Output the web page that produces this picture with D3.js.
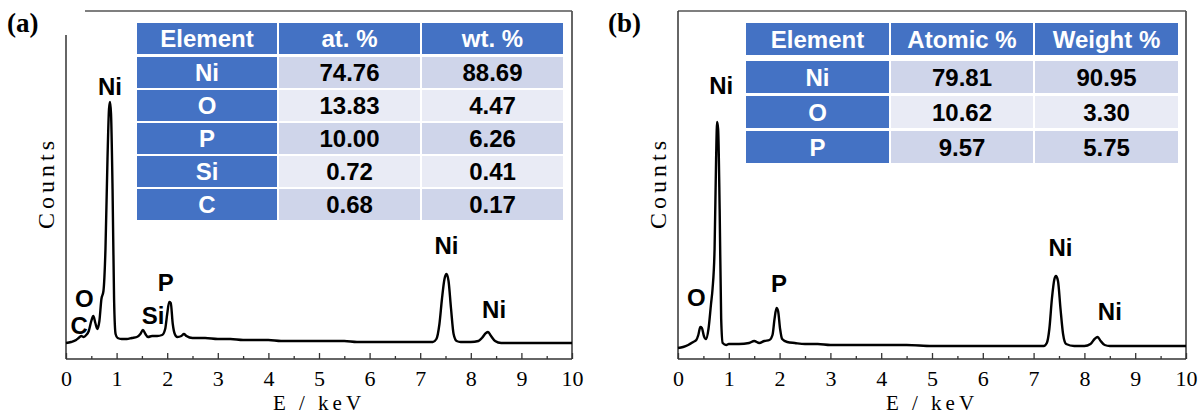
<!DOCTYPE html>
<html>
<head>
<meta charset="utf-8">
<script src="https://cdn.jsdelivr.net/npm/d3@7"></script>
<style>
  html, body { margin: 0; padding: 0; background: #fff; }
  svg { display: block; }
</style>
</head>
<body>
<svg id="chart" width="1198" height="415"></svg>
<script>
// ---------------- DATA ----------------
const panelLabels = ["(a)", "(b)"];
const majorTicks = [0, 1, 2, 3, 4, 5, 6, 7, 8, 9, 10];
const minorTicks = [0.5, 1.5, 2.5, 3.5, 4.5, 5.5, 6.5, 7.5, 8.5, 9.5];
const xTitle = "E / keV";
const yTitle = "Counts";

// Spectrum (a): energy (keV) and counts (arb.)
const energyA = [0.00,0.10,0.20,0.25,0.30,0.35,0.40,0.45,0.50,0.54,0.58,0.62,0.66,0.70,0.74,0.78,0.82,0.85,0.87,0.89,0.92,0.95,0.98,1.02,1.10,1.20,1.30,1.40,1.47,1.52,1.57,1.62,1.70,1.80,1.90,1.96,2.00,2.04,2.07,2.11,2.15,2.20,2.28,2.33,2.38,2.50,2.75,3.00,3.25,3.50,3.75,4.00,4.25,4.50,4.75,5.00,5.25,5.50,5.75,6.00,6.25,6.50,6.75,7.00,7.25,7.32,7.38,7.43,7.48,7.52,7.56,7.61,7.66,7.72,7.80,8.00,8.15,8.22,8.30,8.34,8.40,8.48,8.60,8.80,9.00,9.25,9.50,9.75,10.00];
const countsA = [16,17,19,21,23,22,24,28,38,43,36,30,38,60,68,110,200,250,257,245,170,60,25,21,20,20,21,22,25,29,25,22,23,23,24,30,45,57,56,35,25,22,23,25,23,21,21,20,20,19,19,19,18,18,18,18,18,18,17,17,17,17,17,17,17,20,35,60,80,85,78,50,25,18,17,17,18,21,26,27,23,18,16,16,16,16,16,16,16];

// Spectrum (b)
const energyB = [0.00,0.10,0.20,0.30,0.36,0.40,0.44,0.47,0.51,0.55,0.60,0.65,0.68,0.72,0.75,0.77,0.79,0.82,0.85,0.88,0.95,1.00,1.20,1.40,1.50,1.60,1.70,1.80,1.86,1.90,1.94,1.97,2.01,2.05,2.15,2.30,2.50,2.75,3.00,3.50,4.00,4.50,5.00,5.50,6.00,6.50,7.00,7.20,7.26,7.31,7.36,7.41,7.44,7.48,7.53,7.58,7.64,7.80,8.00,8.12,8.20,8.26,8.32,8.40,8.50,9.00,9.50,10.00];
const countsB = [11,12,14,17,19,24,32,31,23,20,30,55,70,110,200,237,230,150,40,16,14,15,15,16,18,16,18,19,24,40,51,48,30,20,17,16,15,15,14,14,14,14,13,13,13,13,13,13,16,30,60,80,83,78,50,25,15,13,13,15,20,22,18,14,13,13,13,13];

// Peak labels (element, energy keV, counts level of label centre)
const peaksA = [
  {t:"Ni", e:0.87, c:273},
  {t:"O",  e:0.36, c:61},
  {t:"C",  e:0.26, c:34},
  {t:"Si", e:1.72, c:44},
  {t:"P",  e:1.97, c:77},
  {t:"Ni", e:7.52, c:114},
  {t:"Ni", e:8.46, c:50}
];
const peaksB = [
  {t:"Ni", e:0.85, c:274},
  {t:"O",  e:0.36, c:62},
  {t:"P",  e:1.99, c:76},
  {t:"Ni", e:7.53, c:112},
  {t:"Ni", e:8.50, c:48}
];

// Tables
const headerA = ["Element", "at. %", "wt. %"];
const elementsA = ["Ni", "O", "P", "Si", "C"];
const atA = ["74.76", "13.83", "10.00", "0.72", "0.68"];
const wtA = ["88.69", "4.47", "6.26", "0.41", "0.17"];

const headerB = ["Element", "Atomic %", "Weight %"];
const elementsB = ["Ni", "O", "P"];
const atB = ["79.81", "10.62", "9.57"];
const wtB = ["90.95", "3.30", "5.75"];

// ---------------- DRAW ----------------
const svg = d3.select("#chart");
const BLUE = "#4472C4", DARK = "#CFD5EA", LIGHT = "#E9EBF5";

function drawPanel(p) {
  const g = svg.append("g");
  const x = d3.scaleLinear().domain([0, 10]).range([p.x0, p.x1]);
  const y = d3.scaleLinear().domain([0, 350]).range([p.yb, p.yb - 350]);

  // frame
  const fr = g.append("g").attr("stroke", "#333").attr("stroke-width", 1.5).attr("fill", "none");
  fr.append("line").attr("x1", p.x0).attr("x2", p.x1).attr("y1", p.yb).attr("y2", p.yb);
  fr.append("line").attr("x1", p.x1).attr("x2", p.x1).attr("y1", p.yt).attr("y2", p.yb);
  fr.append("line").attr("x1", p.topStart).attr("x2", p.x1).attr("y1", p.yt).attr("y2", p.yt).attr("stroke", "#555");
  fr.append("line").attr("x1", p.x0).attr("x2", p.x0).attr("y1", p.leftStart).attr("y2", p.yb);

  // axes
  const ax = g.append("g").attr("transform", `translate(0,${p.yb})`)
    .call(d3.axisBottom(x).tickValues(majorTicks).tickSizeInner(-6).tickSizeOuter(0).tickFormat(d3.format("d")));
  ax.select(".domain").remove();
  ax.selectAll(".tick line").attr("stroke", "#333").attr("stroke-width", 1.3);
  ax.selectAll(".tick text").attr("y", 27).attr("dy", 0)
    .attr("font-family", "'Liberation Serif', 'Times New Roman', serif")
    .attr("font-size", 22).attr("fill", "#000");
  const mx = g.append("g").attr("transform", `translate(0,${p.yb})`)
    .call(d3.axisBottom(x).tickValues(minorTicks).tickSizeInner(-3).tickSizeOuter(0).tickFormat(""));
  mx.select(".domain").remove();
  mx.selectAll(".tick line").attr("stroke", "#333").attr("stroke-width", 1.3);

  // titles
  g.append("text").attr("x", (p.x0 + p.x1) / 2).attr("y", 410).attr("text-anchor", "middle")
    .attr("font-family", "'Liberation Serif', 'Times New Roman', serif").attr("font-size", 21)
    .attr("letter-spacing", 4).text(xTitle);
  g.append("text").attr("transform", `translate(${p.yTitleX},${p.yTitleY}) rotate(-90)`)
    .attr("text-anchor", "middle")
    .attr("font-family", "'Liberation Serif', 'Times New Roman', serif").attr("font-size", 24)
    .attr("letter-spacing", 4).text(yTitle);
  g.append("text").attr("x", p.labX).attr("y", 32)
    .attr("font-family", "'Liberation Serif', 'Times New Roman', serif").attr("font-weight", "bold")
    .attr("font-size", 27).text(p.label);

  // spectrum
  const pts = p.energy.map((e, i) => [e, p.counts[i]]);
  const line = d3.line().x(d => x(d[0])).y(d => y(d[1])).curve(d3.curveMonotoneX);
  g.append("path").datum(pts).attr("d", line).attr("fill", "none")
    .attr("stroke", "#000").attr("stroke-width", 2.4).attr("stroke-linejoin", "round");

  // peak labels
  g.selectAll(".pk").data(p.peaks).enter().append("text")
    .attr("x", d => x(d.e)).attr("y", d => y(d.c)).attr("dy", "0.36em")
    .attr("text-anchor", "middle")
    .attr("font-family", "'Liberation Sans', Arial, sans-serif").attr("font-weight", "bold")
    .attr("font-size", 24).attr("fill", "#000").text(d => d.t);

  // table
  const t = p.table;
  const colX = t.cols;
  const tg = g.append("g").attr("font-family", "'Liberation Sans', Arial, sans-serif")
    .attr("font-weight", "bold").attr("font-size", 24);
  t.header.forEach((h, j) => {
    tg.append("rect").attr("x", colX[j][0]).attr("y", t.headY).attr("width", colX[j][1] - colX[j][0])
      .attr("height", t.headH).attr("fill", BLUE);
    tg.append("text").attr("x", (colX[j][0] + colX[j][1]) / 2).attr("y", t.headY + t.headH / 2)
      .attr("dy", "0.36em").attr("text-anchor", "middle").attr("fill", "#fff").text(h);
  });
  t.elements.forEach((el, i) => {
    const ry = t.rowY + i * t.pitch;
    const vals = [el, t.at[i], t.wt[i]];
    vals.forEach((v, j) => {
      const fill = j === 0 ? BLUE : (i % 2 === 0 ? DARK : LIGHT);
      tg.append("rect").attr("x", colX[j][0]).attr("y", ry).attr("width", colX[j][1] - colX[j][0])
        .attr("height", t.rowH).attr("fill", fill);
      tg.append("text").attr("x", (colX[j][0] + colX[j][1]) / 2).attr("y", ry + t.rowH / 2)
        .attr("dy", "0.36em").attr("text-anchor", "middle")
        .attr("fill", j === 0 ? "#fff" : "#000").text(v);
    });
  });
}

drawPanel({
  label: panelLabels[0], labX: 7,
  x0: 66, x1: 572, yb: 359, yt: 11, topStart: 85, leftStart: 35,
  yTitleX: 54, yTitleY: 183,
  energy: energyA, counts: countsA, peaks: peaksA,
  table: { header: headerA, elements: elementsA, at: atA, wt: wtA,
    cols: [[137, 277], [279, 420], [422, 563]],
    headY: 23, headH: 31, rowY: 57, rowH: 31, pitch: 33 }
});

drawPanel({
  label: panelLabels[1], labX: 608,
  x0: 678, x1: 1186, yb: 359, yt: 11, topStart: 678, leftStart: 11,
  yTitleX: 666, yTitleY: 183,
  energy: energyB, counts: countsB, peaks: peaksB,
  table: { header: headerB, elements: elementsB, at: atB, wt: wtB,
    cols: [[746, 889], [891, 1033], [1035, 1178]],
    headY: 23, headH: 32, rowY: 61, rowH: 32, pitch: 35 }
});
</script>
</body>
</html>
